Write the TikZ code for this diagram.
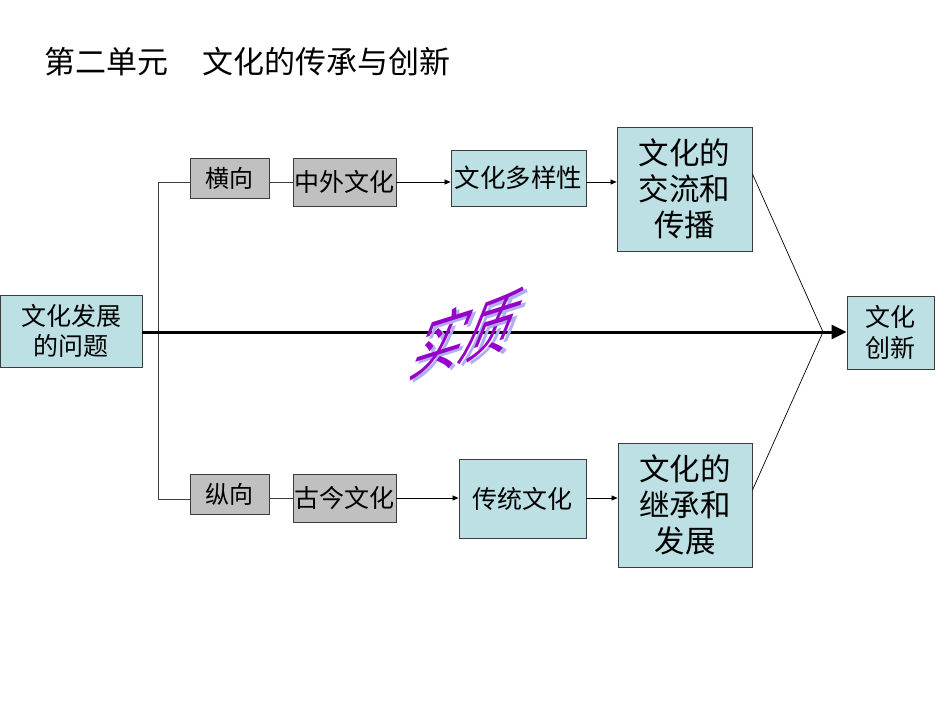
\documentclass[tikz,border=0pt]{standalone}
\usepackage{fontspec}
\setmainfont{Noto Sans CJK SC}
\usetikzlibrary{arrows.meta,calc}
\definecolor{boxblue}{RGB}{188,224,228}
\definecolor{boxgray}{RGB}{192,192,192}
\definecolor{edgecol}{RGB}{60,60,60}
\definecolor{zhipurple}{RGB}{150,0,200}
\definecolor{zhishadow}{RGB}{175,175,240}
\newcommand{\fsz}[2]{\fontsize{#1pt}{#2pt}\selectfont}
\begin{document}
\begin{tikzpicture}[x=1pt,y=1pt,
  bluebox/.style={draw=edgecol, line width=0.9pt, fill=boxblue, inner sep=0pt, align=center},
  graybox/.style={draw=edgecol, line width=0.9pt, fill=boxgray, inner sep=0pt, align=center},
  smallarr/.style={-{Triangle[length=6pt,width=5pt]}, line width=0.7pt, draw=black},
  bracketline/.style={line width=0.9pt, draw=edgecol},
  mainline/.style={-{Triangle[length=15pt,width=14pt]}, line width=3pt, draw=black},
  convline/.style={line width=0.7pt, draw=black},
  zhitext/.style={font=\fsz{42}{42}, inner sep=0pt, xslant=0.4, yslant=0.36, yscale=1.75, xscale=1.05}
]
\useasboundingbox (0,0) rectangle (950,-713);

\node[anchor=west, font=\fsz{31}{31}, inner sep=0pt] (title) at (44,-62) {第二单元\hspace{34pt}文化的传承与创新};

\node[bluebox, minimum width=142pt, minimum height=72pt, font=\fsz{25}{30}] (prob) at (71,-331) {文化发展\\的问题};

\node[graybox, minimum width=79pt, minimum height=40pt, font=\fsz{24}{24}] (heng) at (229.5,-178) {横向};
\node[graybox, minimum width=103pt, minimum height=48pt, font=\fsz{25}{25}] (zhongwai) at (344.5,-182) {中外文化};
\node[bluebox, minimum width=135pt, minimum height=56pt, font=\fsz{25.5}{25.5}] (duoyang) at (518.5,-178) {文化多样性};
\node[bluebox, minimum width=135pt, minimum height=124pt, font=\fsz{30.5}{36}] (jiaoliu) at (684.5,-189) {文化的\\交流和\\传播};

\node[graybox, minimum width=79pt, minimum height=40pt, font=\fsz{24}{24}] (zong) at (229.5,-494) {纵向};
\node[graybox, minimum width=103pt, minimum height=48pt, font=\fsz{25}{25}] (gujin) at (344.5,-498) {古今文化};
\node[bluebox, minimum width=127pt, minimum height=79pt, font=\fsz{25}{25}] (chuantong) at (522.5,-498.5) {传统文化};
\node[bluebox, minimum width=134pt, minimum height=124pt, font=\fsz{30.5}{36}] (jicheng) at (685,-505) {文化的\\继承和\\发展};

\node[bluebox, minimum width=87pt, minimum height=73pt, font=\fsz{25}{31}] (chuangxin) at (890.5,-332.5) {文化\\创新};

% bracket
\coordinate (bt) at (158,-182);
\coordinate (bb) at (158,-499);
\draw[bracketline] (heng.west |- bt) -- (bt) -- (bb) -- (zong.west |- bb);
\draw[bracketline] (heng.east |- zhongwai.west) -- (zhongwai.west);
\draw[bracketline] (zong.east |- gujin.west) -- (gujin.west);

% top row arrows
\draw[smallarr] (zhongwai.east) -- (zhongwai.east -| duoyang.west);
\draw[smallarr] (duoyang.east |- zhongwai.east) -- (jiaoliu.west |- zhongwai.east);
% bottom row arrows
\draw[smallarr] (gujin.east) -- (gujin.east -| chuantong.west);
\draw[smallarr] (chuantong.east |- gujin.east) -- (jicheng.west |- gujin.east);

% converging lines
\coordinate (conv) at (823,-332);
\draw[convline] ($(jiaoliu.north east)!0.38!(jiaoliu.south east)$) -- (conv);
\draw[convline] ($(jicheng.north east)!0.38!(jicheng.south east)$) -- (conv);

% main line
\draw[mainline] (prob.east |- conv) -- (conv -| chuangxin.west);

% shi zhi word art
\node[zhitext, text=zhishadow] (zhishadowtext) at (471.5,-335) {实质};
\node[zhitext, text=zhipurple] (zhi) at (468,-333) {实质};
\end{tikzpicture}
\end{document}
